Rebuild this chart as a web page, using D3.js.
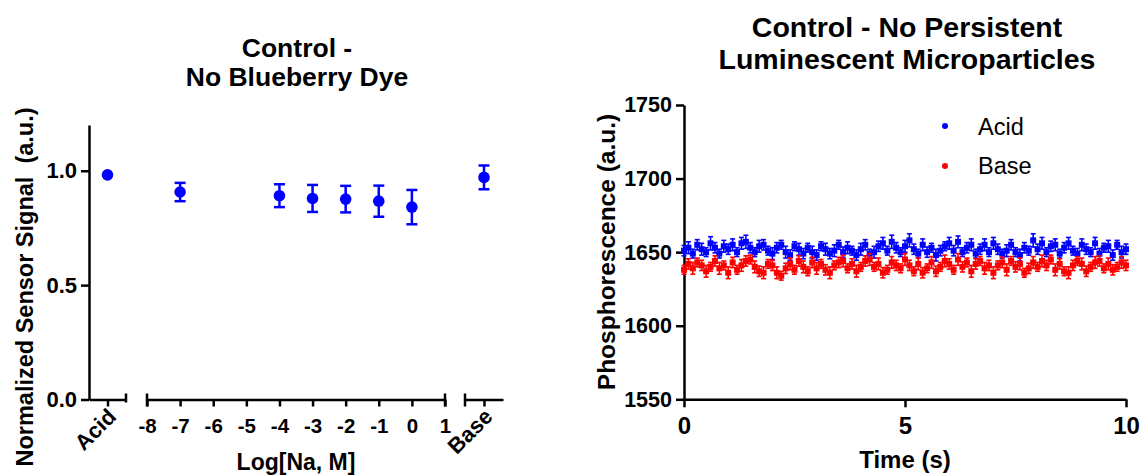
<!DOCTYPE html>
<html>
<head>
<meta charset="utf-8">
<script src="https://d3js.org/d3.v7.min.js"></script>
<style>
  body { margin: 0; background: #fff; }
  text { font-family: "Liberation Sans", Arial, sans-serif; fill: #000; }
  .axis path, .axis line { stroke: #000; stroke-width: 2.5; }
  .axis text { font-weight: bold; font-family: "Liberation Sans", Arial, sans-serif; }
</style>
</head>
<body>
<div id="chart"></div>
<script>
const width = 1142
const height = 476

// --- Left panel data ---
const leftLabels = ["Acid", -7, -4, -3, -2, -1, 0, "Base"]
const leftMeans = [0.982, 0.907, 0.891, 0.879, 0.876, 0.867, 0.841, 0.971]
const leftErrors = [0.008, 0.040, 0.050, 0.059, 0.058, 0.068, 0.075, 0.052]
const leftYTicks = [0, 0.5, 1.0]
const logTicks = [-8, -7, -6, -5, -4, -3, -2, -1, 0, 1]

// --- Right panel data (one reading every 0.1 s) ---
const sampleStep = 0.1
const acidSignal = [
  1651,1653,1649,1655,1652,1650,1656,1653,1649,1654,
  1652,1655,1650,1656,1657,1653,1650,1654,1655,1651,
  1649,1653,1655,1650,1648,1654,1652,1649,1653,1650,
  1648,1654,1652,1649,1651,1655,1650,1653,1651,1648,
  1652,1655,1649,1650,1654,1656,1651,1657,1653,1650,
  1654,1658,1652,1649,1655,1650,1653,1648,1651,1654,
  1656,1651,1657,1650,1653,1655,1649,1652,1655,1650,
  1656,1652,1649,1651,1655,1650,1648,1653,1651,1658,
  1652,1656,1650,1654,1655,1649,1653,1656,1651,1649,
  1655,1652,1650,1656,1649,1653,1654,1648,1655,1650,
  1652
]
const acidError = [
  3.5,4,3,3.5,4,3,4.5,3.5,3,4,
  3.5,4,3,4,4.5,3.5,3,4,3.5,3,
  4,3.5,3,4,3.5,3,4,3.5,3,4,
  3.5,3,4,3.5,4,3,3.5,4,3,3.5,
  4,3.5,3,4,3.5,4,3,4.5,3.5,3,
  4,4.5,3.5,3,4,3.5,3,4,3.5,3,
  4,3.5,4,3,3.5,4,3,3.5,4,3,
  4,3.5,3,4,3.5,3,4,3.5,3,4.5,
  3.5,4,3,3.5,4,3,3.5,4,3,3.5,
  4,3.5,3,4,3.5,3,4,3.5,3,4,
  3.5
]
const baseSignal = [
  1638,1642,1639,1643,1641,1637,1640,1644,1639,1641,
  1636,1643,1638,1641,1644,1645,1640,1637,1636,1642,
  1641,1636,1634,1639,1642,1638,1644,1640,1637,1643,
  1639,1642,1638,1636,1641,1643,1644,1639,1642,1637,
  1640,1644,1645,1640,1642,1636,1638,1643,1641,1639,
  1645,1641,1637,1642,1636,1639,1643,1637,1640,1644,
  1642,1638,1645,1640,1643,1637,1642,1644,1639,1641,
  1636,1641,1643,1638,1644,1640,1642,1636,1639,1643,
  1640,1644,1641,1645,1638,1642,1637,1636,1641,1644,
  1642,1637,1640,1643,1644,1639,1642,1638,1640,1643,
  1641
]
const baseError = [
  3,3.5,4,3,3.5,4,3,3.5,4,3,
  4,3.5,3,4,3.5,3,4,3.5,4,3,
  3.5,4,3,3.5,4,3,3.5,4,3,3.5,
  4,3,3.5,4,3,3.5,4,3,3.5,4,
  3,3.5,4,3,4,3.5,3,4,3.5,3,
  4,3.5,3,4,3.5,3,4,3.5,3,4,
  3.5,3,4,3.5,3,4,3.5,3,4,3.5,
  4,3,3.5,4,3,3.5,4,3,3.5,4,
  3,4,3.5,3,4,3.5,3,4,3.5,3,
  4,3.5,3,4,3.5,3,4,3.5,3,4,
  3.5
]
const rightSeries = ["Acid", "Base"]
const rightColors = ["#0000ff", "#ff0000"]
const rightYTicks = [1550, 1600, 1650, 1700, 1750]
const rightXTicks = [0, 5, 10]

const svg = d3.select("#chart")
              .append("svg")
                .attr("width", width)
                .attr("height", height)

svg.append("rect").attr("width", width).attr("height", height).attr("fill", "#fff")

// ================= Left panel =================
const leftAxisX = 89
const leftBaseY = 399.5

const yLeft = d3.scaleLinear().domain([0, 1.2]).range([leftBaseY, 125])
const xAcid = d3.scalePoint().domain(["Acid"]).range([leftAxisX, 126]).padding(0.5)
const xLog = d3.scaleLinear().domain([-8, 1]).range([147, 445])
const xBase = d3.scalePoint().domain(["Base"]).range([465, 503]).padding(0.5)

const leftX = d => d === "Acid" ? xAcid(d) : d === "Base" ? xBase(d) : xLog(d)

// y-axis
svg.append("g")
    .attr("class", "axis")
    .attr("transform", `translate(${leftAxisX}, 0)`)
    .call(d3.axisLeft(yLeft).tickValues(leftYTicks).tickFormat(d3.format(".1f")).tickSize(8).tickSizeOuter(0).tickPadding(4))
    .call(g => g.selectAll("text").style("font-size", "22px"))

// x-axis segments
const addSegment = (scale, ticks) => {
  const g = svg.append("g")
      .attr("class", "axis")
      .attr("transform", `translate(0, ${leftBaseY})`)
  const axis = d3.axisBottom(scale).tickSize(7).tickSizeOuter(0).tickPadding(12)
  if (ticks) axis.tickValues(ticks).tickFormat(d => String(d))
  g.call(axis)
  g.selectAll("text").style("font-size", "20.5px")
  return g
}

const gAcid = addSegment(xAcid, null)
const gLog = addSegment(xLog, logTicks)
const gBase = addSegment(xBase, null)

// rotated category labels
;[gAcid, gBase].forEach(g => {
  g.selectAll(".tick text")
    .attr("text-anchor", "end")
    .attr("y", 0)
    .attr("dy", "0.35em")
    .attr("transform", "translate(4, 13) rotate(-45)")
    .style("font-size", "22px")
})

// segment end caps
const caps = [
  [xAcid.range()[1], -6, 3],
  [xLog.range()[0], -6, 7],
  [xLog.range()[1], -6, 7],
  [xBase.range()[0], -6, 7]
]
svg.append("g")
    .selectAll("line")
    .data(caps)
    .join("line")
      .attr("x1", d => d[0]).attr("x2", d => d[0])
      .attr("y1", d => leftBaseY + d[1]).attr("y2", d => leftBaseY + d[2])
      .attr("stroke", "#000").attr("stroke-width", 2.5)

// left data
const leftData = leftLabels.map((k, i) => ({ key: k, mean: leftMeans[i], err: leftErrors[i] }))
const gLeftPts = svg.append("g")
gLeftPts.selectAll("line.err")
    .data(leftData)
    .join("line")
      .attr("class", "err")
      .attr("x1", d => leftX(d.key)).attr("x2", d => leftX(d.key))
      .attr("y1", d => yLeft(d.mean - d.err)).attr("y2", d => yLeft(d.mean + d.err))
      .attr("stroke", "#0000ff").attr("stroke-width", 2.5)
;[-1, 1].forEach(s => {
  gLeftPts.selectAll(`line.cap${s}`)
      .data(leftData.filter(d => d.key !== "Acid"))
      .join("line")
        .attr("class", `cap${s}`)
        .attr("x1", d => leftX(d.key) - 5.5).attr("x2", d => leftX(d.key) + 5.5)
        .attr("y1", d => yLeft(d.mean + s * d.err)).attr("y2", d => yLeft(d.mean + s * d.err))
        .attr("stroke", "#0000ff").attr("stroke-width", 2.5)
})
gLeftPts.selectAll("circle")
    .data(leftData)
    .join("circle")
      .attr("cx", d => leftX(d.key))
      .attr("cy", d => yLeft(d.mean))
      .attr("r", 5.8)
      .attr("fill", "#0000ff")

// titles
const leftTitle = svg.append("text")
    .attr("text-anchor", "middle")
    .style("font-size", "26.5px").style("font-weight", "bold")
leftTitle.append("tspan").attr("x", 297).attr("y", 57).text("Control -")
leftTitle.append("tspan").attr("x", 297).attr("y", 86).text("No Blueberry Dye")

svg.append("text")
    .attr("transform", `translate(33, 287) rotate(-90)`)
    .attr("text-anchor", "middle")
    .style("font-size", "23.5px").style("font-weight", "bold").style("white-space", "pre")
    .text("Normalized Sensor Signal  (a.u.)")

svg.append("text")
    .attr("x", xLog(-3.5)).attr("y", 470)
    .attr("text-anchor", "middle")
    .style("font-size", "23px").style("font-weight", "bold")
    .text("Log[Na, M]")

// ================= Right panel =================
const xRight = d3.scaleLinear().domain([0, 10]).range([684, 1126])
const yRight = d3.scaleLinear().domain([1550, 1750]).range([399.3, 105])

svg.append("g")
    .attr("class", "axis")
    .attr("transform", `translate(${xRight(0)}, 0)`)
    .call(d3.axisLeft(yRight).tickValues(rightYTicks).tickFormat(d3.format("d")).tickSize(8).tickSizeOuter(0).tickPadding(4))
    .call(g => g.selectAll("text").style("font-size", "21.5px"))

svg.append("g")
    .attr("class", "axis")
    .attr("transform", `translate(0, ${yRight(1550)})`)
    .call(d3.axisBottom(xRight).tickValues(rightXTicks).tickFormat(d3.format("d")).tickSize(8).tickSizeOuter(0).tickPadding(10))
    .call(g => g.selectAll("text").style("font-size", "24px"))

const rightData = [
  { name: "Acid", values: acidSignal, errors: acidError },
  { name: "Base", values: baseSignal, errors: baseError }
].map((s, si) => ({
  name: s.name,
  color: rightColors[si],
  points: s.values.map((v, i) => ({ t: i * sampleStep, v: v, e: s.errors[i] }))
}))

rightData.forEach(s => {
  const g = svg.append("g").attr("stroke", s.color).attr("fill", s.color)
  g.selectAll("line.bar")
      .data(s.points)
      .join("line")
        .attr("class", "bar")
        .attr("x1", d => xRight(d.t)).attr("x2", d => xRight(d.t))
        .attr("y1", d => yRight(d.v - d.e)).attr("y2", d => yRight(d.v + d.e))
        .attr("stroke-width", 1.6)
  ;[-1, 1].forEach(sg => {
    g.selectAll(`line.c${sg}`)
        .data(s.points)
        .join("line")
          .attr("class", `c${sg}`)
          .attr("x1", d => xRight(d.t) - 2.5).attr("x2", d => xRight(d.t) + 2.5)
          .attr("y1", d => yRight(d.v + sg * d.e)).attr("y2", d => yRight(d.v + sg * d.e))
          .attr("stroke-width", 1.6)
  })
  g.selectAll("rect")
      .data(s.points)
      .join("rect")
        .attr("x", d => xRight(d.t) - 3)
        .attr("y", d => yRight(d.v) - 3)
        .attr("width", 6).attr("height", 6)
        .attr("stroke", "none")
})

// legend
const legend = svg.append("g")
legend.selectAll("circle")
    .data(rightSeries)
    .join("circle")
      .attr("cx", 945)
      .attr("cy", (d, i) => 126 + i * 40)
      .attr("r", 3)
      .attr("fill", (d, i) => rightColors[i])
legend.selectAll("text")
    .data(rightSeries)
    .join("text")
      .attr("x", 978)
      .attr("y", (d, i) => 135 + i * 39)
      .style("font-size", "23.5px")
      .text(d => d)

const rightTitle = svg.append("text")
    .attr("text-anchor", "middle")
    .style("font-size", "28.5px").style("font-weight", "bold")
rightTitle.append("tspan").attr("x", 907).attr("y", 37).text("Control - No Persistent")
rightTitle.append("tspan").attr("x", 907).attr("y", 69).text("Luminescent Microparticles")

svg.append("text")
    .attr("transform", `translate(615, 252) rotate(-90)`)
    .attr("text-anchor", "middle")
    .style("font-size", "24.5px").style("font-weight", "bold")
    .text("Phosphorescence (a.u.)")

svg.append("text")
    .attr("x", xRight(5)).attr("y", 468)
    .attr("text-anchor", "middle")
    .style("font-size", "24px").style("font-weight", "bold")
    .text("Time (s)")
</script>
</body>
</html>
